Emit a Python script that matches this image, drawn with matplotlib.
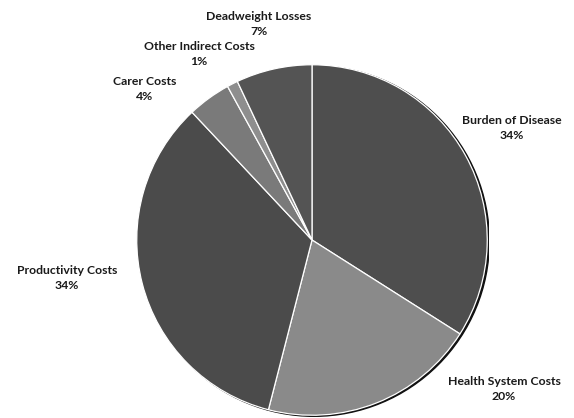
import matplotlib
matplotlib.use("Agg")
import matplotlib.pyplot as plt
from matplotlib.patches import Circle

categories = ["Burden of Disease", "Health System Costs", "Productivity Costs",
              "Carer Costs", "Other Indirect Costs", "Deadweight Losses"]
values = [34, 20, 34, 4, 1, 7]
colors = ["#4e4e4e", "#8a8a8a", "#4b4b4b", "#7a7a7a", "#8e8e8e", "#545454"]

# label anchor positions in pixels (layout only)
label_pos = [(512, 115), (504, 376), (67, 265), (145, 76), (199, 41), (259, 11)]

W, H = 574, 418
fig = plt.figure(figsize=(W / 100, H / 100), dpi=100)
cx, cy, r = 312, 240, 177
ax = fig.add_axes([(cx - r) / W, (H - cy - r) / H, 2 * r / W, 2 * r / H])
ax.add_patch(Circle((0.012, -0.006), 1.0, color="#111111", zorder=0))
ax.pie(values, colors=colors, startangle=90, counterclock=False, radius=1.0,
       wedgeprops=dict(edgecolor="white", linewidth=0.9))
ax.set_xlim(-1.01, 1.01)
ax.set_ylim(-1.01, 1.01)
ax.set_aspect("equal")
ax.axis("off")

for name, v, (px, py) in zip(categories, values, label_pos):
    fig.text(px / W, 1 - py / H, f"{name}\n{v}%", ha="center", va="top",
             fontsize=8.8, fontfamily="Lato", fontweight="bold", color="#1a1a1a",
             linespacing=1.45)

fig.savefig("out.png", dpi=100)
